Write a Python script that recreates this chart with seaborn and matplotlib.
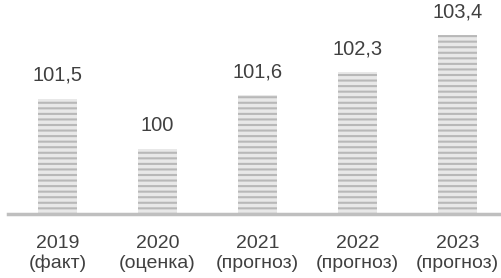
import matplotlib
matplotlib.use("Agg")
import matplotlib.pyplot as plt
import seaborn as sns
import pandas as pd

years = ["2019", "2020", "2021", "2022", "2023"]
notes = ["(факт)", "(оценка)", "(прогноз)", "(прогноз)", "(прогноз)"]
values = [101.5, 100.0, 101.6, 102.3, 103.4]
value_labels = ["101,5", "100", "101,6", "102,3", "103,4"]

sns.set_theme(style="white")
plt.rcParams["font.family"] = ["Liberation Sans", "DejaVu Sans"]
plt.rcParams["hatch.linewidth"] = 1.5

cats = [f"{y}\n{n}" for y, n in zip(years, notes)]
df = pd.DataFrame({"cat": cats, "val": values})

fig = plt.figure(figsize=(5.02, 2.78), dpi=100)
ax = fig.add_axes([8 / 502, 64 / 278, 494 / 502, 214 / 278])
sns.barplot(data=df, x="cat", y="val", color="#e8e8e8", width=0.39, ax=ax,
            linewidth=0, saturation=1)
for p in ax.patches:
    p.set_hatch("---")
    p.set_edgecolor("#b8b8b8")
    p.set_linewidth(0)

ax.set_xlim(-0.495, 4.445)
ax.set_ylim(98.06, 104.45)
for i, (v, t) in enumerate(zip(values, value_labels)):
    ax.annotate(t, (i, v), xytext=(0, 14), textcoords="offset pixels",
                ha="center", va="bottom", fontsize=14.5, color="#404040")

ax.set_xlabel("")
ax.set_ylabel("")
ax.set_yticks([])
ax.tick_params(axis="x", length=0, pad=15, labelsize=14, labelcolor="#404040")
for lbl in ax.get_xticklabels():
    lbl.set_linespacing(1.22)
for s in ["top", "right", "left"]:
    ax.spines[s].set_visible(False)
ax.spines["bottom"].set_color("#bfbfbf")
ax.spines["bottom"].set_linewidth(2.5)

fig.savefig("out.png", dpi=100)
